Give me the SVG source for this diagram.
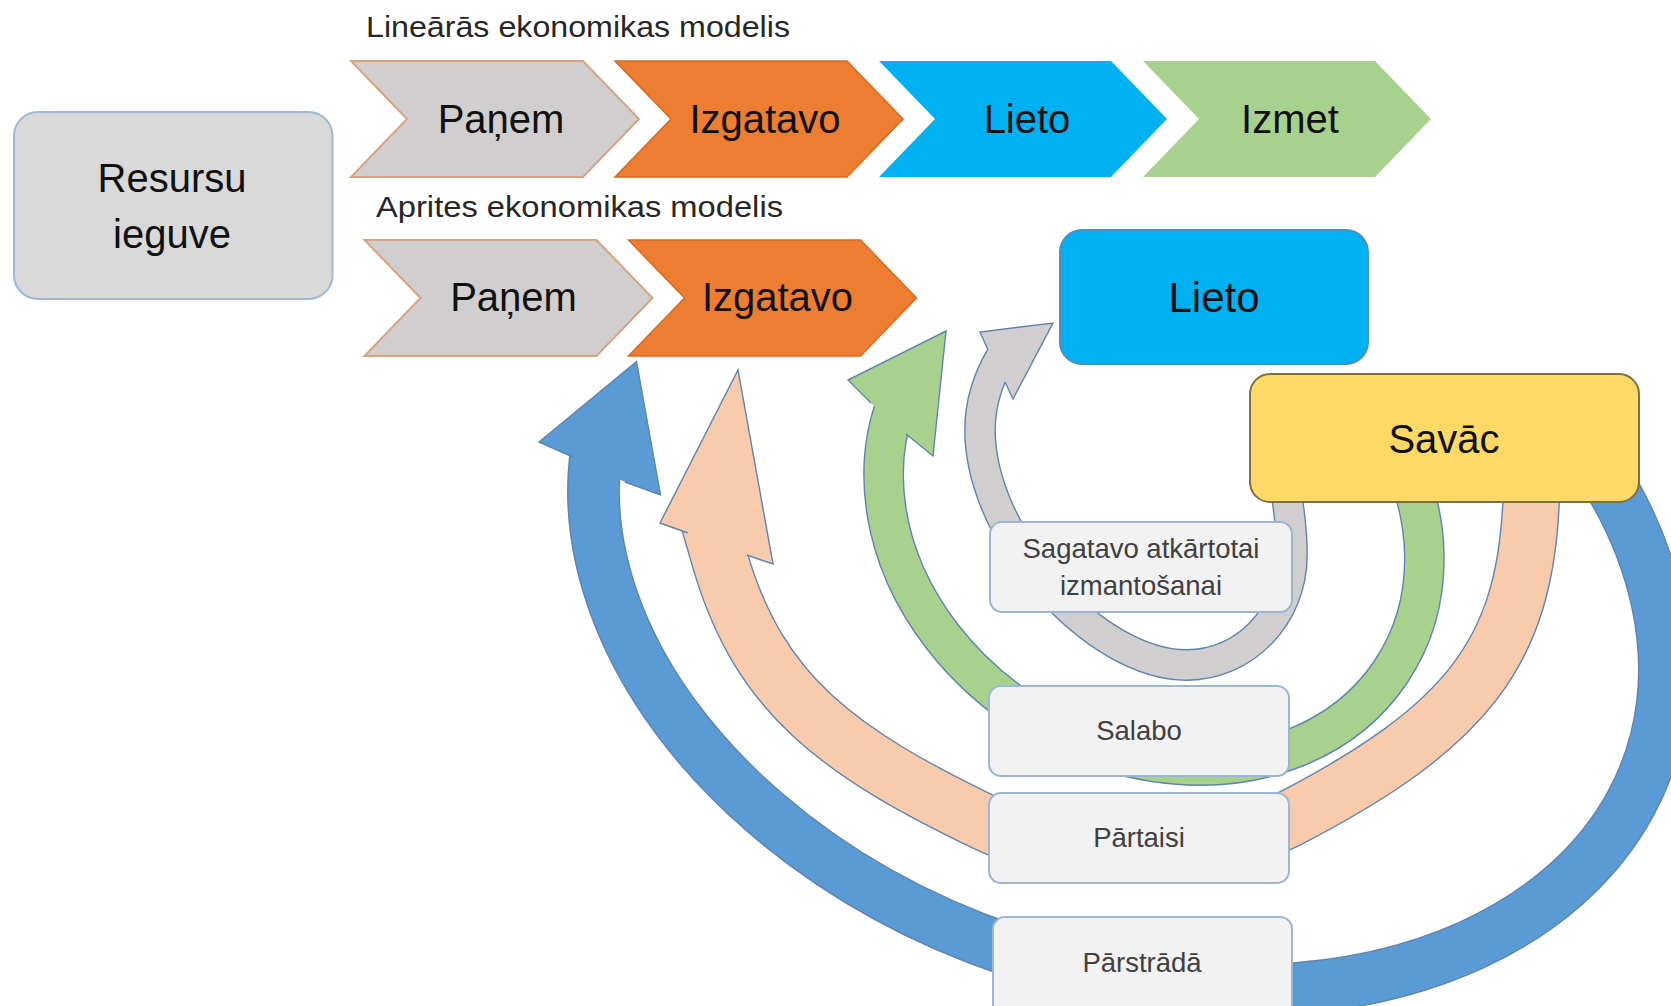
<svg xmlns="http://www.w3.org/2000/svg" width="1671" height="1006" viewBox="0 0 1671 1006">
<style>
text { font-family: "Liberation Sans", Arial, sans-serif; }
.title { font-size: 29px; fill: #262626; }
.big { font-size: 40px; fill: #111111; text-anchor: middle; }
.lbl { font-size: 27.5px; fill: #404040; text-anchor: middle; }
.lbox { fill: #F2F2F2; stroke: #9BB5D4; stroke-width: 2; }
.edge { fill: none; stroke: #5F84AE; }
.band { fill: none; }
.head { stroke: #5F84AE; stroke-width: 1.4; stroke-linejoin: miter; }
.cg { fill: #D0CECE; stroke: #D9A37F; stroke-width: 2; }
.co { fill: #ED7D31; stroke: #D8691F; stroke-width: 1.5; }
.cb { fill: #00B0F0; }
.cgr { fill: #A9D18E; }
</style>

<rect width="1671" height="1006" fill="#FFFFFF"/>

<g id="connectors">
  <g id="arrow-parstrada">
    <path class="edge" stroke-width="52.8" d="M1562.33 417.33 A551 389 19.5 1 1 600.26 428.73"/>
    <path class="band" stroke="#5B9BD5" stroke-width="50" d="M1562.33 417.33 A551 389 19.5 1 1 600.26 428.73"/>
    <path class="head" fill="#5B9BD5" d="M573 457 L539 442 L636.5 361.5 L660.5 495 L625 482"/>
  </g>
  <g id="arrow-partaisi">
    <path class="edge" stroke-width="57.8" d="M704.6 507 L720 560 C759.2 694.4 837 751.9 990 825 C1062 859.4 1218 855.8 1289 819 C1466.4 727 1524.3 653 1531 503 C1532 480 1525 440 1518 420"/>
    <path class="band" stroke="#F8CBAD" stroke-width="55" d="M704.6 507 L720 560 C759.2 694.4 837 751.9 990 825 C1062 859.4 1218 855.8 1289 819 C1466.4 727 1524.3 653 1531 503 C1532 480 1525 440 1518 420"/>
    <path class="head" fill="#F8CBAD" d="M688 533 L660 523 L738 370 L773 564 L747 555"/>
  </g>
  <g id="arrow-salabo">
    <path class="edge" stroke-width="40.8" d="M1392.82 439.22 A283 234 31.7 1 1 896.95 401.26"/>
    <path class="band" stroke="#A9D18E" stroke-width="38" d="M1392.82 439.22 A283 234 31.7 1 1 896.95 401.26"/>
    <path class="head" fill="#A9D18E" d="M871 403 L848 380 L946 331 L933 456 L906 434"/>
  </g>
  <g id="arrow-sagatavo">
    <path class="edge" stroke-width="31.8" d="M1278 455 C1284 475 1292 520 1292 555 C1292 615.5 1244.8 665 1187 665 C1094 665 980 536 980 430 C980 405 987 380 1002 355"/>
    <path class="band" stroke="#D0CECE" stroke-width="29" d="M1278 455 C1284 475 1292 520 1292 555 C1292 615.5 1244.8 665 1187 665 C1094 665 980 536 980 430 C980 405 987 380 1002 355"/>
    <path class="head" fill="#D0CECE" d="M988 350 L980 332 L1053 323 L1013 399 L1005 382"/>
  </g>
</g>

<text class="title" x="366" y="37" textLength="424" lengthAdjust="spacingAndGlyphs">Lineārās ekonomikas modelis</text>
<text class="title" x="376" y="217" textLength="407" lengthAdjust="spacingAndGlyphs">Aprites ekonomikas modelis</text>

<g id="resursu-ieguve">
  <rect x="14" y="112" width="318.5" height="187" rx="24" fill="#D9D9D9" stroke="#9DB9D5" stroke-width="2"/>
  <text class="big" x="172" y="192">Resursu</text>
  <text class="big" x="172" y="248">ieguve</text>
</g>

<g id="lin-panem">
  <polygon class="cg" points="351,61 583,61 639,119 583,177 351,177 407,119"/>
  <text class="big" x="501" y="133">Paņem</text>
</g>
<g id="lin-izgatavo">
  <polygon class="co" points="615,61 847,61 903,119 847,177 615,177 671,119"/>
  <text class="big" x="765" y="133">Izgatavo</text>
</g>
<g id="lin-lieto">
  <polygon class="cb" points="879,61 1111,61 1167,119 1111,177 879,177 935,119"/>
  <text class="big" x="1027" y="133">Lieto</text>
</g>
<g id="lin-izmet">
  <polygon class="cgr" points="1143,61 1375,61 1431,119 1375,177 1143,177 1199,119"/>
  <text class="big" x="1290" y="133">Izmet</text>
</g>

<g id="apr-panem">
  <polygon class="cg" points="364.5,240 596.5,240 652.5,298 596.5,356 364.5,356 420.5,298"/>
  <text class="big" x="513.5" y="311">Paņem</text>
</g>
<g id="apr-izgatavo">
  <polygon class="co" points="628.5,240 860.5,240 916.5,298 860.5,356 628.5,356 684.5,298"/>
  <text class="big" x="777.5" y="311">Izgatavo</text>
</g>

<g id="apr-lieto">
  <rect x="1060" y="230" width="308" height="134" rx="22" fill="#00B0F0" stroke="#4A90C0" stroke-width="2"/>
  <text class="big" x="1214" y="312" style="font-size:42px">Lieto</text>
</g>

<g id="savac">
  <rect x="1250" y="374" width="389" height="128" rx="20" fill="#FFD966" stroke="#7F6F45" stroke-width="2"/>
  <text class="big" x="1444" y="453">Savāc</text>
</g>

<g id="lbl-sagatavo">
  <rect class="lbox" x="990" y="522" width="302" height="90" rx="12"/>
  <text class="lbl" x="1141" y="558">Sagatavo atkārtotai</text>
  <text class="lbl" x="1141" y="595">izmantošanai</text>
</g>
<g id="lbl-salabo">
  <rect class="lbox" x="989" y="686" width="300" height="90" rx="12"/>
  <text class="lbl" x="1139" y="740">Salabo</text>
</g>
<g id="lbl-partaisi">
  <rect class="lbox" x="989" y="793" width="300" height="90" rx="12"/>
  <text class="lbl" x="1139" y="847">Pārtaisi</text>
</g>
<g id="lbl-parstrada">
  <rect class="lbox" x="993" y="917" width="299" height="100" rx="12"/>
  <text class="lbl" x="1142" y="972">Pārstrādā</text>
</g>
</svg>
